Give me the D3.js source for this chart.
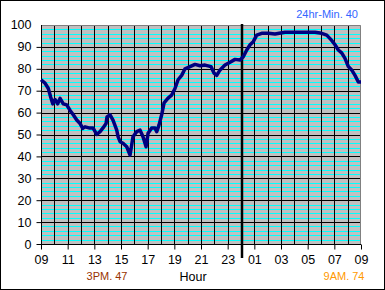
<!DOCTYPE html>
<html>
<head>
<meta charset="utf-8">
<script src="https://cdn.jsdelivr.net/npm/d3@7"></script>
<style>
  body { margin: 0; background: #fff; }
  svg text { font-family: "Liberation Sans", Arial, sans-serif; }
  .axis path { display: none; }
</style>
</head>
<body>
<div class="viz"></div>
<script>
// hours elapsed since 09:00, and the reading at that time
var hours = [0, 0.3, 0.55, 0.73, 0.88, 1.05, 1.25, 1.43, 1.67, 1.93, 2.18, 2.42, 2.68, 2.93, 3.13, 3.3, 3.6, 3.9, 4.18, 4.43,
    4.65, 4.88, 4.95, 5.18, 5.4, 5.68, 5.78, 5.93, 6.15, 6.43, 6.68, 6.9, 7.18, 7.43, 7.65, 7.88, 8.03, 8.3, 8.55, 8.68,
    8.85, 9.05, 9.23, 9.53, 9.8, 10.05, 10.28, 10.55, 10.8, 11.18, 11.55, 11.93, 12.3, 12.75, 12.98, 13.18, 13.43, 13.8, 14.18, 14.55,
    14.93, 15.17, 15.43, 15.68, 15.92, 16.18, 16.55, 17.05, 17.55, 18.3, 19.05, 19.8, 20.55, 21.05, 21.43, 21.8, 22.05, 22.3, 22.55, 22.8,
    23.05, 23.3, 23.55, 23.8, 24];
var values = [75, 73.5, 71, 67, 64, 66, 64, 66.5, 64, 63.5, 61, 59, 56.6, 55, 52.8, 53.5, 53, 53, 50, 51.3,
    53, 55, 58, 59, 56.6, 52, 49, 46.7, 46, 44.4, 40.6, 49, 51.3, 52, 49, 44.4, 50.6, 53, 53, 51.3,
    54.3, 59, 64.4, 66.6, 68, 71, 75, 77, 80, 81, 82, 81.4, 81.7, 81, 78, 77, 79.5, 81.7, 83, 84.3,
    84, 85.5, 88.6, 91, 92.4, 95.4, 96.2, 96.2, 95.9, 96.7, 96.7, 96.7, 96.7, 96.2, 95.4, 93, 91, 88.6, 87.3, 84.8,
    81, 79.5, 77, 74, 74];

var hourLabels = ["09", "11", "13", "15", "17", "19", "21", "23", "01", "03", "05", "07", "09"];
var yTicks = [0, 10, 20, 30, 40, 50, 60, 70, 80, 90, 100];
var minorTicks = d3.range(2, 100, 2).filter(function(d) { return d % 10 != 0; });
var midnight = 15;
var minText = "24hr-Min. 40",
    minAtText = "3PM. 47",
    lastText = "9AM. 74";

var W = 385, H = 290;
var x = d3.scaleLinear().domain([0, 24]).range([41, 361]);
var y = d3.scaleLinear().domain([0, 100]).range([244, 25]);

var svg = d3.select(".viz").append("svg")
    .attr("width", W)
    .attr("height", H);

svg.append("rect")
    .attr("x", 0.5).attr("y", 0.5)
    .attr("width", W - 1).attr("height", H - 1)
    .attr("fill", "#fff").attr("stroke", "#000");

// plot area
svg.append("rect")
    .attr("x", x(0)).attr("y", y(100))
    .attr("width", x(24) - x(0)).attr("height", y(0) - y(100))
    .attr("fill", "#c0c0c0");

// cyan minor lines
svg.selectAll(".minor")
    .data(minorTicks)
    .enter().append("line")
    .attr("class", "minor")
    .attr("x1", x(0)).attr("x2", x(24))
    .attr("y1", function(d) { return Math.round(y(d)) + 0.5; })
    .attr("y2", function(d) { return Math.round(y(d)) + 0.5; })
    .attr("stroke", "#00ffff")
    .attr("stroke-width", 1);

// black hour lines
svg.selectAll(".vgrid")
    .data(d3.range(1, 24))
    .enter().append("line")
    .attr("class", "vgrid")
    .attr("x1", function(d) { return Math.round(x(d)) + 0.5; })
    .attr("x2", function(d) { return Math.round(x(d)) + 0.5; })
    .attr("y1", y(100)).attr("y2", y(0))
    .attr("stroke", "#000");

svg.selectAll(".hgrid")
    .data(yTicks.slice(1, 10))
    .enter().append("line")
    .attr("class", "hgrid")
    .attr("x1", x(0)).attr("x2", x(24))
    .attr("y1", function(d) { return Math.round(y(d)) + 0.5; })
    .attr("y2", function(d) { return Math.round(y(d)) + 0.5; })
    .attr("stroke", "#000");

// top and right border
svg.append("path")
    .attr("d", "M" + x(0) + "," + (y(100) + 0.5) + "H" + (x(24) - 0.5) + "V" + y(0))
    .attr("fill", "none").attr("stroke", "#808080");

// axes
var yAxis = d3.axisLeft(y).tickValues(yTicks.slice(0, 10)).tickSize(5).tickPadding(5);
var gy = svg.append("g").attr("class", "axis")
    .attr("transform", "translate(" + (Math.round(x(0)) + 0.5) + ",0)")
    .call(yAxis);
gy.selectAll("text").attr("font-size", 12.5).attr("fill", "#000");
gy.append("text").attr("x", -10).attr("y", y(100)).attr("dy", "0.32em")
    .attr("text-anchor", "end").attr("font-size", 12.5).attr("fill", "#000").text("100");

var xAxis = d3.axisBottom(x).tickValues(d3.range(0, 25, 2)).tickSize(5).tickPadding(6)
    .tickFormat(function(d, i) { return hourLabels[i]; });
var gx = svg.append("g").attr("class", "axis")
    .attr("transform", "translate(0," + (Math.round(y(0)) + 0.5) + ")")
    .call(xAxis);
gx.selectAll("text").attr("font-size", 12.5).attr("fill", "#000");

svg.append("line")
    .attr("x1", x(0)).attr("x2", x(24))
    .attr("y1", Math.round(y(0)) + 0.5).attr("y2", Math.round(y(0)) + 0.5)
    .attr("stroke", "#000");
svg.append("line")
    .attr("x1", Math.round(x(0)) + 0.5).attr("x2", Math.round(x(0)) + 0.5)
    .attr("y1", y(100)).attr("y2", y(0))
    .attr("stroke", "#000");

// midnight marker
svg.append("line")
    .attr("x1", x(midnight) + 1).attr("x2", x(midnight) + 1)
    .attr("y1", 24).attr("y2", 258)
    .attr("stroke", "#000").attr("stroke-width", 2.5);

// data line
var line = d3.line()
    .x(function(d, i) { return x(hours[i]); })
    .y(function(d) { return y(d); });

svg.append("path")
    .datum(values)
    .attr("d", line)
    .attr("fill", "none")
    .attr("stroke", "#000080")
    .attr("stroke-width", 3.5)
    .attr("stroke-linejoin", "round");

// labels
svg.append("text").attr("x", 358).attr("y", 18).attr("text-anchor", "end")
    .attr("font-size", 11).attr("fill", "#3366ff").text(minText);
svg.append("text").attr("x", 107).attr("y", 280).attr("text-anchor", "middle")
    .attr("font-size", 11).attr("fill", "#993300").text(minAtText);
svg.append("text").attr("x", 193).attr("y", 281).attr("text-anchor", "middle")
    .attr("font-size", 12.5).attr("fill", "#000").text("Hour");
svg.append("text").attr("x", 344).attr("y", 280).attr("text-anchor", "middle")
    .attr("font-size", 11).attr("fill", "#ff9900").text(lastText);
</script>
</body>
</html>
